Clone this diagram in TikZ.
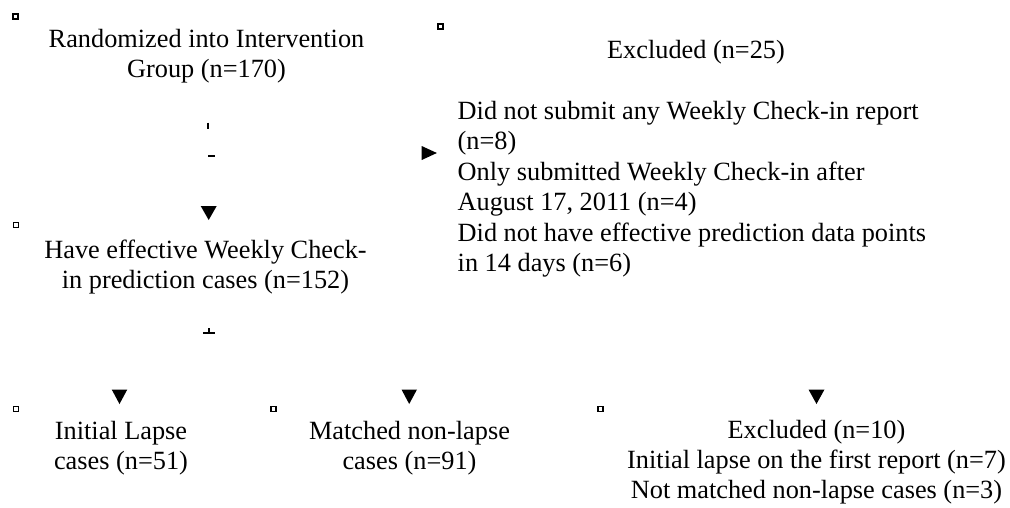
\documentclass[tikz,border=0pt]{standalone}
\usepackage{fontspec}
\setmainfont{Liberation Serif}
\begin{document}
\begin{tikzpicture}[x=1pt,y=-1pt,
  txt/.style={inner sep=0pt,align=center,anchor=base,font=\fontsize{26.3}{30}\selectfont},
  txtl/.style={inner sep=0pt,align=left,anchor=base west,font=\fontsize{26.3}{30.5}\selectfont},
  corner/.style={draw=black,line width=1.8pt,fill=white},
  head/.style={fill=black,draw=none},
  tick/.style={draw=black,line width=2pt}]
\useasboundingbox (0,0) rectangle (1010,507);
% corner markers
\foreach \n/\x/\y in {m1/15.8/16.3, m2/440.5/26.5, m3/16/225, m4/16/409, m5/273.5/409, m6/600.8/409}
  \path[corner] (\x-2.5,\y-2.5) rectangle (\x+2.5,\y+2.5);
% texts
\node[txt] (rand) at (206.5,77) {Randomized into Intervention\\Group (n=170)};
\node[txt] (exc1) at (696,58) {Excluded (n=25)};
\node[txtl] (exc1list) at (457.5,271.7) {Did not submit any Weekly Check-in report\\(n=8)\\Only submitted Weekly Check-in after\\August 17, 2011 (n=4)\\Did not have effective prediction data points\\in 14 days (n=6)};
\node[txt] (eff) at (205.5,288) {Have effective Weekly Check-\\in prediction cases (n=152)};
\node[txt] (lapse) at (121,469) {Initial Lapse\\cases (n=51)};
\node[txt] (match) at (409.5,469) {Matched non-lapse\\cases (n=91)};
\node[txt] (exc2) at (816.5,498) {Excluded (n=10)\\Initial lapse on the first report (n=7)\\Not matched non-lapse cases (n=3)};
% tick marks
\draw[tick] (208.3,122.7) -- (208.3,129.3);
\draw[tick] (208.3,156.2) -- (215.3,156.2);
\draw[tick] (202.8,333) -- (214.8,333);
\draw[tick] (208.8,333) -- (208.8,327.8);
% arrow heads
\fill[head] (200.7,206) -- (216.7,206) -- (208.7,220) -- cycle;
\fill[head] (421.7,146) -- (436.9,153) -- (421.7,160) -- cycle;
\fill[head] (111.7,389.5) -- (127.3,389.5) -- (119.5,404) -- cycle;
\fill[head] (401.5,389.5) -- (417,389.5) -- (409.2,404) -- cycle;
\fill[head] (808.5,389.5) -- (824.5,389.5) -- (816.5,404) -- cycle;
\end{tikzpicture}
\end{document}
